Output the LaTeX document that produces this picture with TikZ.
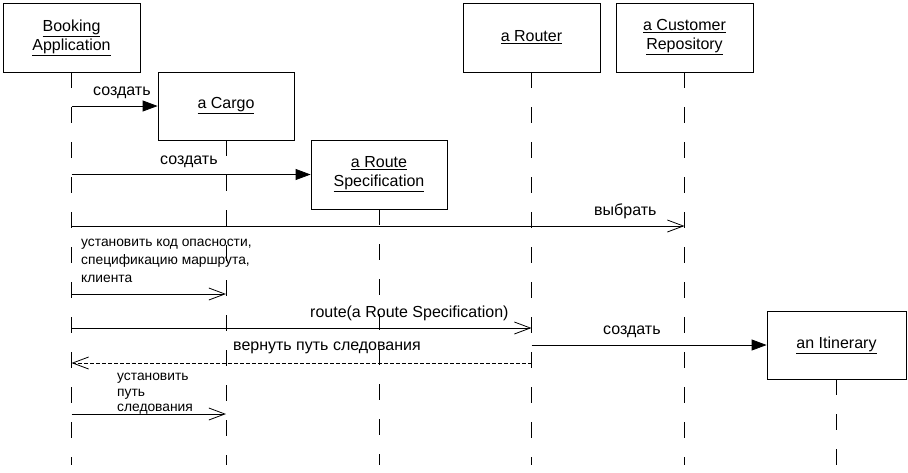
\documentclass[tikz,border=0pt]{standalone}
\usepackage{fontspec}
\setmainfont{Liberation Sans}
\usetikzlibrary{arrows.meta}

\tikzset{
  obj/.style={draw, line width=0.8pt, inner sep=0pt, align=center,
    font=\fontsize{16}{19}\selectfont},
  lifeline/.style={line width=0.8pt, dash pattern=on 16pt off 19pt},
  call/.style={line width=0.8pt, -{Triangle[length=15pt,width=11pt]}},
  msg/.style={line width=0.8pt, -{Straight Barb[length=16pt,width=12pt]}},
  reply/.style={msg, dash pattern=on 4pt off 2pt},
  lbl/.style={inner sep=0pt, align=left, font=\fontsize{16}{19}\selectfont},
  note/.style={lbl, anchor=north west, font=\fontsize{13.8}{18}\selectfont}
}

\begin{document}
\begin{tikzpicture}[x=1pt,y=-1pt]
\useasboundingbox (0,0) rectangle (908,472);

% objects
\node[obj, minimum width=137, minimum height=69] (ba) at (71.5,37.5)
  {\underline{Booking}\\\underline{Application}};
\node[obj, minimum width=136, minimum height=68] (cargo) at (226,106)
  {\underline{a Cargo}};
\node[obj, minimum width=136, minimum height=69] (spec) at (379,174.5)
  {\underline{a Route}\\\underline{Specification}};
\node[obj, minimum width=137, minimum height=69] (router) at (531.5,37.5)
  {\underline{a Router}};
\node[obj, minimum width=137, minimum height=69] (repo) at (684.5,37.5)
  {\underline{a Customer}\\\underline{Repository}};
\node[obj, minimum width=139, minimum height=68] (itin) at (836.5,345)
  {\underline{an Itinerary}};

% lifelines
\coordinate (bottom) at (0,465);
\foreach \n in {ba,cargo,spec,router,repo,itin} {
  \draw[lifeline] (\n.south) -- (\n.south |- bottom);
}

% message levels
\coordinate (sel) at (0,226);
\coordinate (crit) at (0,294);
\coordinate (rt) at (0,328);
\coordinate (back) at (0,363);
\coordinate (path) at (0,414);

% messages
\draw[call] (ba |- cargo.west) -- (cargo.west);
\draw[call] (ba |- spec.west) -- (spec.west);
\draw[msg] (ba |- sel) -- (repo |- sel);
\draw[msg] (ba |- crit) -- (cargo |- crit);
\draw[msg] (ba |- rt) -- (router |- rt);
\draw[call] (router |- itin.west) -- (itin.west);
\draw[reply] (router |- back) -- (ba |- back);
\draw[msg] (ba |- path) -- (cargo |- path);

% labels
\node[lbl, anchor=base west] (l1) at (93,95) {создать};
\node[lbl, anchor=base west] (l2) at (160,164) {создать};
\node[lbl, anchor=base west] (l3) at (594,215) {выбрать};
\node[note] (l4) at (81,239)
  {установить код опасности,\\спецификацию маршрута,\\клиента};
\node[lbl, anchor=base west] (l5) at (310,317) {route(a Route Specification)};
\node[lbl, anchor=base west] (l6) at (233,350) {вернуть путь следования};
\node[lbl, anchor=base west] (l7) at (603,334) {создать};
\node[note, font=\fontsize{13.8}{15.5}\selectfont] (l8) at (117,373)
  {установить\\путь\\следования};
\end{tikzpicture}
\end{document}
